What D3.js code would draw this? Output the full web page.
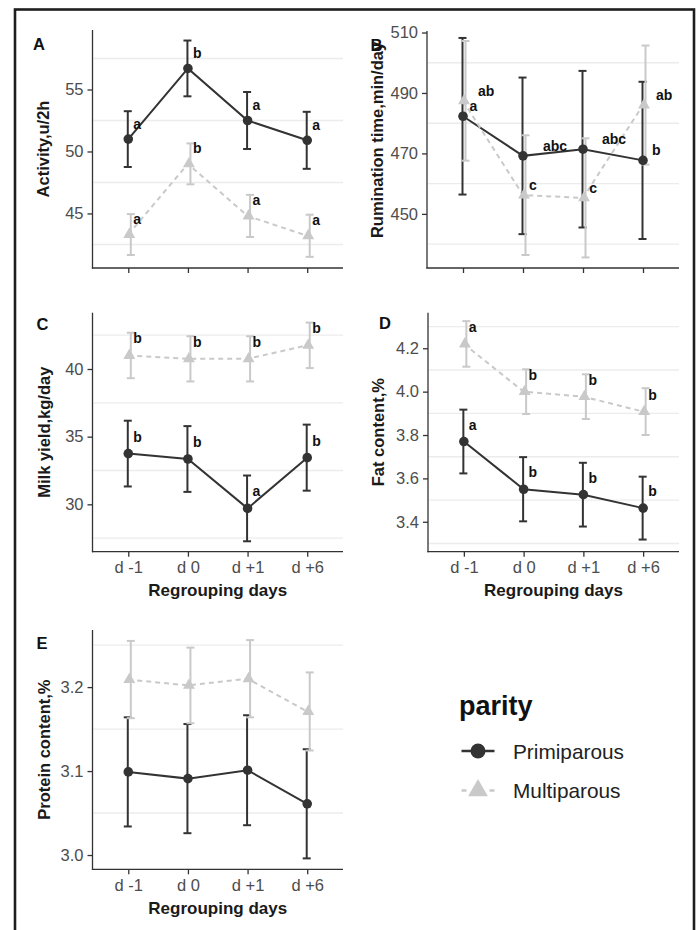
<!DOCTYPE html>
<html>
<head>
<meta charset="utf-8">
<script src="https://cdn.jsdelivr.net/npm/d3@7"></script>
<style>
  html, body { margin: 0; padding: 0; background: #fff; }
  svg { display: block; font-family: "Liberation Sans", Arial, sans-serif; }
</style>
</head>
<body>
<svg id="chart" width="700" height="930"></svg>
<script>
// ---------------- DATA ----------------
const days = ["d -1", "d 0", "d +1", "d +6"];
const parity = ["Primiparous", "Multiparous"];

// A: Activity (u/2h)
const activityPrim = [51.0, 56.7, 52.5, 50.9];
const activityPrimSE = [2.25, 2.25, 2.3, 2.3];
const activityMulti = [43.3, 49.0, 44.8, 43.2];
const activityMultiSE = [1.65, 1.65, 1.7, 1.7];
const activityPrimLetters = ["a", "b", "a", "a"];
const activityMultiLetters = ["a", "b", "a", "a"];
const activityTicks = [45, 50, 55];
const activityMinor = [42.5, 47.5, 52.5, 57.5];

// B: Rumination time (min/day)
const ruminationPrim = [482.3, 469.2, 471.4, 467.7];
const ruminationPrimSE = [25.9, 25.9, 25.9, 26.0];
const ruminationMulti = [487.4, 456.2, 455.3, 486.0];
const ruminationMultiSE = [19.8, 19.8, 19.7, 19.7];
const ruminationPrimLetters = ["a", "abc", "abc", "b"];
const ruminationMultiLetters = ["ab", "c", "c", "ab"];
const ruminationTicks = [450, 470, 490, 510];
const ruminationMinor = [440, 460, 480, 500];

// C: Milk yield (kg/day)
const milkPrim = [33.75, 33.35, 29.7, 33.45];
const milkPrimSE = [2.43, 2.43, 2.43, 2.44];
const milkMulti = [41.0, 40.75, 40.75, 41.75];
const milkMultiSE = [1.68, 1.67, 1.67, 1.68];
const milkPrimLetters = ["b", "b", "a", "b"];
const milkMultiLetters = ["b", "b", "b", "b"];
const milkTicks = [30, 35, 40];
const milkMinor = [27.5, 32.5, 37.5, 42.5];

// D: Fat content (%)
const fatPrim = [3.77, 3.55, 3.525, 3.463];
const fatPrimSE = [0.147, 0.148, 0.147, 0.145];
const fatMulti = [4.22, 4.0, 3.977, 3.908];
const fatMultiSE = [0.105, 0.103, 0.103, 0.108];
const fatPrimLetters = ["a", "b", "b", "b"];
const fatMultiLetters = ["a", "b", "b", "b"];
const fatTicks = [3.4, 3.6, 3.8, 4.0, 4.2];
const fatMinor = [3.3, 3.5, 3.7, 3.9, 4.1, 4.3];

// E: Protein content (%)
const proteinPrim = [3.099, 3.091, 3.101, 3.061];
const proteinPrimSE = [0.065, 0.065, 0.0655, 0.065];
const proteinMulti = [3.209, 3.202, 3.210, 3.171];
const proteinMultiSE = [0.046, 0.045, 0.046, 0.0465];
const proteinTicks = [3.0, 3.1, 3.2];
const proteinMinor = [3.05, 3.15, 3.25];

// ---------------- STYLE ----------------
const DARK = "#333333";
const LIGHT = "#c9c9c9";
const GRID = "#ececec";
const TICKCOL = "#4d4d4d";
const TEXTCOL = "#1a1a1a";

const svg = d3.select("#chart");

// outer frame
svg.append("rect")
  .attr("x", 15).attr("y", 9.5).attr("width", 679).attr("height", 940)
  .attr("fill", "none").attr("stroke", "#1e1e1e").attr("stroke-width", 2.6);

function drawPanel(cfg) {
  const g = svg.append("g");
  const x = d3.scalePoint().domain(days).range([cfg.x0, cfg.x1]).padding(0.6);
  const y = d3.scaleLinear().domain(cfg.domain).range([cfg.y1, cfg.y0]);

  // minor gridlines
  g.selectAll(".grid").data(cfg.minor).join("line")
    .attr("x1", cfg.x0).attr("x2", cfg.x1)
    .attr("y1", d => y(d)).attr("y2", d => y(d))
    .attr("stroke", GRID).attr("stroke-width", 1.4);

  // axes
  const yAxis = d3.axisLeft(y).tickValues(cfg.ticks).tickSize(5).tickPadding(4)
    .tickFormat(cfg.fmt);
  const ya = g.append("g").attr("transform", `translate(${cfg.x0},0)`).call(yAxis);
  ya.select(".domain").remove();
  ya.selectAll(".tick line").attr("stroke", DARK).attr("stroke-width", 1.3);
  ya.selectAll(".tick text").attr("fill", TICKCOL).attr("font-size", 16.5)
    .attr("font-family", "Liberation Sans, Arial, sans-serif");

  const xAxis = d3.axisBottom(x).tickSize(5).tickPadding(5);
  const xa = g.append("g").attr("transform", `translate(0,${cfg.y1})`).call(xAxis);
  xa.select(".domain").remove();
  xa.selectAll(".tick line").attr("stroke", DARK).attr("stroke-width", 1.3);
  if (cfg.showX) {
    xa.selectAll(".tick text").attr("fill", TICKCOL).attr("font-size", 16.5)
      .attr("font-family", "Liberation Sans, Arial, sans-serif");
  } else {
    xa.selectAll(".tick text").remove();
  }
  g.append("line").attr("x1", cfg.x0).attr("x2", cfg.x0)
    .attr("y1", cfg.y0).attr("y2", cfg.y1 + 0.6)
    .attr("stroke", DARK).attr("stroke-width", 1.3);
  g.append("line").attr("x1", cfg.x0 - 0.6).attr("x2", cfg.x1)
    .attr("y1", cfg.y1).attr("y2", cfg.y1)
    .attr("stroke", DARK).attr("stroke-width", 1.3);

  if (cfg.showX) {
    g.append("text").attr("x", (cfg.x0 + cfg.x1) / 2).attr("y", cfg.y1 + 39)
      .attr("text-anchor", "middle").attr("dominant-baseline", "central")
      .attr("font-size", 17).attr("font-weight", "bold").attr("fill", TEXTCOL)
      .text("Regrouping days");
  }

  // y title
  const ty = cfg.titleY !== undefined ? cfg.titleY : (cfg.y0 + cfg.y1) / 2;
  g.append("text")
    .attr("transform", `translate(${cfg.titleX},${ty}) rotate(-90)`)
    .attr("text-anchor", "middle").attr("dominant-baseline", "central")
    .attr("font-size", 16.5).attr("font-weight", "bold").attr("fill", TEXTCOL)
    .text(cfg.title);

  // series
  const series = [
    { name: parity[0], m: cfg.prim, se: cfg.primSE, col: DARK, dash: null, off: -0.5, letters: cfg.primLetters, ldx: cfg.primDx },
    { name: parity[1], m: cfg.multi, se: cfg.multiSE, col: LIGHT, dash: "5,4", off: 2.5, letters: cfg.multiLetters, ldx: cfg.multiDx }
  ];
  const line = d3.line().x((d, i) => x(days[i])).y(d => y(d));

  series.forEach(s => {
    g.append("path").datum(s.m).attr("d", line)
      .attr("fill", "none").attr("stroke", s.col).attr("stroke-width", 2)
      .attr("stroke-dasharray", s.dash);
  });
  series.forEach(s => {
    const eg = g.append("g");
    s.m.forEach((v, i) => {
      const cx = x(days[i]) + s.off;
      const lo = y(v - s.se[i]), hi = y(v + s.se[i]);
      eg.append("line").attr("x1", cx).attr("x2", cx).attr("y1", lo).attr("y2", hi)
        .attr("stroke", s.col).attr("stroke-width", 2);
      [lo, hi].forEach(yy => eg.append("line")
        .attr("x1", cx - 4).attr("x2", cx + 4).attr("y1", yy).attr("y2", yy)
        .attr("stroke", s.col).attr("stroke-width", 2));
    });
  });
  // points
  g.selectAll(".pt").data(cfg.prim).join("circle")
    .attr("cx", (d, i) => x(days[i])).attr("cy", d => y(d)).attr("r", 4.8)
    .attr("fill", DARK);
  const tri = d3.symbol().type(d3.symbolTriangle).size(62);
  g.selectAll(".tr").data(cfg.multi).join("path")
    .attr("d", tri)
    .attr("transform", (d, i) => `translate(${x(days[i]) + 1},${y(d)})`)
    .attr("fill", LIGHT);

  // letters
  series.forEach((s, k) => {
    if (!s.letters) return;
    s.letters.forEach((t, i) => {
      const dx = s.ldx ? s.ldx[i] : 5;
      g.append("text")
        .attr("x", x(days[i]) + dx)
        .attr("y", y(s.m[i]) - cfg.ldy)
        .attr("dominant-baseline", "central")
        .attr("font-size", 14).attr("font-weight", "bold").attr("fill", "#111")
        .text(t);
    });
  });

  // panel letter
  g.append("text").attr("x", cfg.lx).attr("y", cfg.ly)
    .attr("dominant-baseline", "central")
    .attr("font-size", 16.5).attr("font-weight", "bold").attr("fill", "#111")
    .text(cfg.letter);
}

const fmt0 = d3.format("d");
const fmt1 = d3.format(".1f");

drawPanel({ letter: "A", lx: 33, ly: 43.5, x0: 92.5, x1: 343, y0: 30, y1: 268,
  domain: [40.6, 59.8], ticks: activityTicks, minor: activityMinor, fmt: fmt0,
  title: "Activity,u/2h", titleX: 43,
  prim: activityPrim, primSE: activityPrimSE, multi: activityMulti, multiSE: activityMultiSE,
  primLetters: activityPrimLetters, multiLetters: activityMultiLetters, ldy: 15.5, showX: false });

drawPanel({ letter: "B", lx: 370.5, ly: 44.5, x0: 427, x1: 679, y0: 31, y1: 268,
  domain: [432.1, 510.5], ticks: ruminationTicks, minor: ruminationMinor, fmt: fmt0,
  title: "Rumination time,min/day", titleX: 376.5, titleY: 140,
  prim: ruminationPrim, primSE: ruminationPrimSE, multi: ruminationMulti, multiSE: ruminationMultiSE,
  primLetters: ruminationPrimLetters, multiLetters: ruminationMultiLetters,
  primDx: [6.5, 20, 19, 9], multiDx: [15, 6, 6.3, 13], ldy: 10, showX: false });

drawPanel({ letter: "C", lx: 36.5, ly: 323.5, x0: 92.5, x1: 343, y0: 312.7, y1: 551.7,
  domain: [26.5, 44.16], ticks: milkTicks, minor: milkMinor, fmt: fmt0,
  title: "Milk yield,kg/day", titleX: 43.5,
  prim: milkPrim, primSE: milkPrimSE, multi: milkMulti, multiSE: milkMultiSE,
  primLetters: milkPrimLetters, multiLetters: milkMultiLetters, ldy: 17, showX: true });

drawPanel({ letter: "D", lx: 379, ly: 322.5, x0: 428, x1: 679, y0: 312.7, y1: 551.7,
  domain: [3.262, 4.364], ticks: fatTicks, minor: fatMinor, fmt: fmt1,
  title: "Fat content,%", titleX: 378,
  prim: fatPrim, primSE: fatPrimSE, multi: fatMulti, multiSE: fatMultiSE,
  primLetters: fatPrimLetters, multiLetters: fatMultiLetters, ldy: 17, showX: true });

drawPanel({ letter: "E", lx: 36.5, ly: 642.5, x0: 92.5, x1: 343, y0: 630, y1: 869.3,
  domain: [2.983, 3.268], ticks: proteinTicks, minor: proteinMinor, fmt: fmt1,
  title: "Protein content,%", titleX: 43.5,
  prim: proteinPrim, primSE: proteinPrimSE, multi: proteinMulti, multiSE: proteinMultiSE,
  primLetters: null, multiLetters: null, ldy: 17, showX: true });

// ---------------- LEGEND ----------------
const lg = svg.append("g");
lg.append("text").attr("x", 459).attr("y", 715)
  .attr("font-size", 27).attr("font-weight", "bold").attr("fill", "#111").text("parity");
const keys = [
  { name: parity[0], col: DARK, dash: null, y: 751, shape: "circle" },
  { name: parity[1], col: LIGHT, dash: "5,4", y: 790.5, shape: "triangle" }
];
keys.forEach(k => {
  lg.append("line").attr("x1", 461.5).attr("x2", 494.5).attr("y1", k.y).attr("y2", k.y)
    .attr("stroke", k.col).attr("stroke-width", 2.6)
    .attr("stroke-dasharray", k.dash ? "5,23,5" : null);
  if (k.shape === "circle") {
    lg.append("circle").attr("cx", 478).attr("cy", k.y).attr("r", 7.5).attr("fill", k.col);
  } else {
    lg.append("path").attr("d", d3.symbol().type(d3.symbolTriangle).size(170)())
      .attr("transform", `translate(478,${k.y})`).attr("fill", k.col);
  }
  lg.append("text").attr("x", 513).attr("y", k.y).attr("dominant-baseline", "central")
    .attr("font-size", 20.8).attr("fill", "#222").text(k.name);
});
</script>
</body>
</html>
